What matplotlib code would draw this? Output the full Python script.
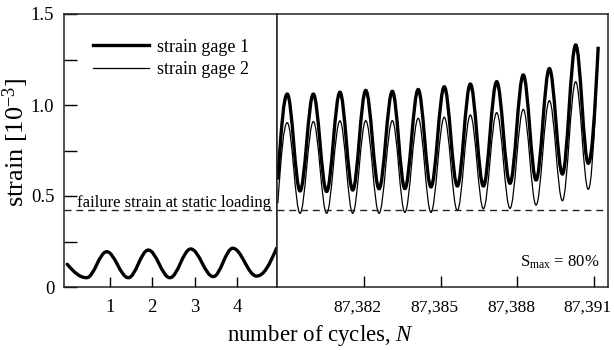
import matplotlib
matplotlib.use("Agg")
import matplotlib.pyplot as plt
from matplotlib.path import Path
from matplotlib.patches import PathPatch
from matplotlib.lines import Line2D
from matplotlib.ticker import FuncFormatter
from matplotlib.transforms import ScaledTranslation

# ---- data ----
# left part: first cycles (gage 1), start / troughs / peaks / end
left_cycles = [0.0, 0.46, 0.93, 1.44, 1.91, 2.42, 2.91, 3.44, 3.90, 4.46, 4.93]
left_strain = [0.125, 0.051, 0.194, 0.051, 0.203, 0.051, 0.209, 0.057, 0.213, 0.060, 0.213]

# right part: last cycles before failure
peak_cycles = [87379.00, 87380.02, 87381.06, 87382.07, 87383.11, 87384.12,
               87385.14, 87386.16, 87387.19, 87388.23, 87389.25, 87390.28]
trough_cycles = [87379.50, 87380.54, 87381.56, 87382.59, 87383.60, 87384.62,
                 87385.65, 87386.67, 87387.71, 87388.73, 87389.76, 87390.77]
gage1_peaks = [1.06, 1.06, 1.07, 1.08, 1.075, 1.085, 1.10, 1.115, 1.128, 1.165, 1.20, 1.33]
gage1_troughs = [0.528, 0.525, 0.533, 0.54, 0.541, 0.55, 0.555, 0.555, 0.57, 0.588, 0.621, 0.68]
gage2_peaks = [0.903, 0.909, 0.913, 0.914, 0.914, 0.927, 0.933, 0.945, 0.958, 0.976, 1.024, 1.128]
gage2_troughs = [0.405, 0.405, 0.405, 0.405, 0.41, 0.41, 0.42, 0.43, 0.432, 0.45, 0.474, 0.537]
gage1_start, gage1_end = (87378.63, 0.59), (87391.16, 1.32)
gage2_start, gage2_end = (87378.63, 0.46), (87391.07, 1.02)

failure_strain = 0.423
right_ticks = [87382, 87385, 87388, 87391]
left_ticks = [1, 2, 3, 4]


def interleave(start, peaks_x, peaks_y, troughs_x, troughs_y, end):
    xs, ys = [start[0]], [start[1]]
    for px, py, tx, ty in zip(peaks_x, peaks_y, troughs_x, troughs_y):
        xs += [px, tx]
        ys += [py, ty]
    xs.append(end[0])
    ys.append(end[1])
    return xs, ys


def wave_path(xs, ys):
    # smooth curve through the extrema: horizontal tangents at the
    # interior points (peaks/troughs), sloped tangents at the ends
    k = 0.3634
    verts = [(xs[0], ys[0])]
    codes = [Path.MOVETO]
    n = len(xs)
    for i in range(n - 1):
        x0, y0, x1, y1 = xs[i], ys[i], xs[i + 1], ys[i + 1]
        dx, dy = x1 - x0, y1 - y0
        c1 = (x0 + k * dx, y0 + (0.6 * dy if i == 0 else 0.0))
        c2 = (x1 - k * dx, y1 - (0.6 * dy if i == n - 2 else 0.0))
        verts += [c1, c2, (x1, y1)]
        codes += [Path.CURVE4] * 3
    return Path(verts, codes)


plt.rcParams["font.family"] = ["Liberation Serif", "DejaVu Serif"]
plt.rcParams["mathtext.fontset"] = "custom"
plt.rcParams["mathtext.rm"] = "Liberation Serif"
plt.rcParams["mathtext.it"] = "Liberation Serif:italic"

fig = plt.figure(figsize=(6.14, 3.5), dpi=100)
ax1 = fig.add_axes([0.1042, 0.18, 0.3474, 0.78])
ax2 = fig.add_axes([0.4516, 0.18, 0.5381, 0.78], sharey=ax1)

thick, thin = 2.4, 0.9

# left panel
ax1.add_patch(PathPatch(wave_path(left_cycles, left_strain), fill=False,
                        edgecolor="black", lw=thick, capstyle="round"))
ax1.axhline(failure_strain, color="#222222", lw=1.0, ls=(0, (5, 3.5)))
ax1.set_xlim(-0.075, 4.947)
ax1.set_ylim(0, 1.5)
ax1.set_xticks(left_ticks)
ax1.set_yticks([0, 0.25, 0.5, 0.75, 1.0, 1.25, 1.5])
ax1.set_yticklabels(["0", "", "0.5", "", "1.0", "", "1.5"])
ax1.tick_params(axis="y", direction="in", length=9, width=1.0, labelsize=13.5, pad=7)
ax1.tick_params(axis="x", direction="in", length=7, width=1.0, labelsize=13.5, pad=9)
ax1.text(0.23, 0.437, "failure strain at static loading", fontsize=12,
         ha="left", va="baseline")

handles = [Line2D([], [], color="black", lw=thick),
           Line2D([], [], color="black", lw=thin)]
ax1.legend(handles, ["strain gage 1", "strain gage 2"], loc="upper left",
           bbox_to_anchor=(0.136, 0.91), frameon=False, fontsize=13,
           handlelength=3.1, handletextpad=0.45, labelspacing=0.3,
           borderpad=0, borderaxespad=0)

# right panel
g1x, g1y = interleave(gage1_start, peak_cycles, gage1_peaks,
                      trough_cycles, gage1_troughs, gage1_end)
g2x, g2y = interleave(gage2_start, peak_cycles, gage2_peaks,
                      trough_cycles, gage2_troughs, gage2_end)
ax2.add_patch(PathPatch(wave_path(g2x, g2y), fill=False,
                        edgecolor="black", lw=thin))
ax2.add_patch(PathPatch(wave_path(g1x, g1y), fill=False,
                        edgecolor="black", lw=thick))
ax2.axhline(failure_strain, color="#222222", lw=1.0, ls=(0, (5, 3.5)))
ax2.set_xlim(87378.61, 87391.53)
ax2.set_xticks(right_ticks)
ax2.xaxis.set_major_formatter(FuncFormatter(lambda v, p: f"{int(round(v)):,}"))
ax2.tick_params(axis="x", direction="in", length=8, width=1.0, labelsize=12.6, pad=9)
ax2.tick_params(axis="y", left=False, labelleft=False)
# labels in the original sit a few pixels left of their ticks
shift = ScaledTranslation(-4.5 / 72, 0, fig.dpi_scale_trans)
for lab in ax2.get_xticklabels():
    lab.set_transform(lab.get_transform() + shift)
ax2.text(87388.10, 0.11, "S$_{\\mathrm{max}}$ = 80%", fontsize=12,
         ha="left", va="baseline")

for ax in (ax1, ax2):
    for sp in ax.spines.values():
        sp.set_linewidth(1.1)
        sp.set_color("#222222")

fig.text(0.026, 0.594, "strain [10$^{-3}$]", fontsize=19, rotation=90,
         ha="center", va="center")
fig.text(0.522, 0.0243, "number of cycles, $N$", fontsize=16.5,
         ha="center", va="baseline")

fig.savefig("out.png", dpi=100)
